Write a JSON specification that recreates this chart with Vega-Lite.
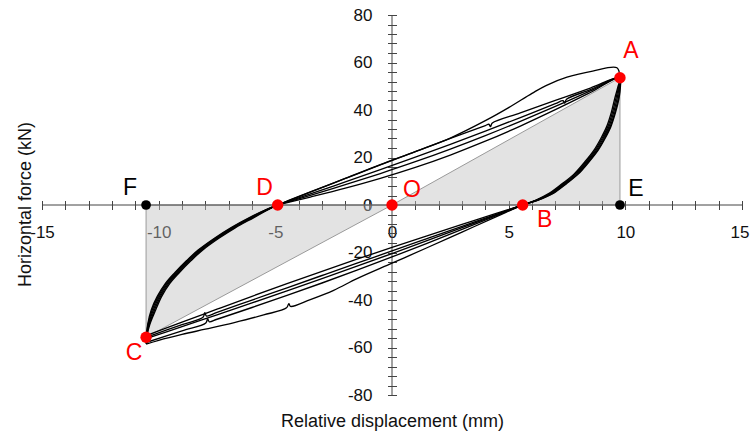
{
  "$schema": "https://vega.github.io/schema/vega-lite/v6.json",
  "width": 700,
  "height": 380,
  "autosize": "none",
  "padding": {"left": 42, "top": 15, "right": 8, "bottom": 42},
  "config": {"view": {"stroke": null}, "font": "Liberation Sans"},
  "datasets": {
    "tri": [
      {"t": "A", "x": 0, "y": 0, "y2": 0},
      {"t": "A", "x": 9.77, "y": 53.6, "y2": 0},
      {"t": "C", "x": -10.54, "y": -55.7, "y2": 0},
      {"t": "C", "x": 0, "y": 0, "y2": 0}
    ],
    "pts": [
      {"n": "A", "x": 9.77, "y": 53.6},
      {"n": "B", "x": 5.6, "y": 0},
      {"n": "C", "x": -10.54, "y": -55.7},
      {"n": "D", "x": -4.9, "y": 0},
      {"n": "O", "x": 0, "y": 0},
      {"n": "E", "x": 9.77, "y": 0},
      {"n": "F", "x": -10.54, "y": 0}
    ],
    "loops": [
      {"c":1,"i":0,"x":-10.54,"y":-58.6},{"c":1,"i":1,"x":-10.42,"y":-50},{"c":1,"i":2,"x":-10.22,"y":-44},{"c":1,"i":3,"x":-9.97,"y":-38.5},{"c":1,"i":4,"x":-9.62,"y":-33},{"c":1,"i":5,"x":-9.22,"y":-28.5},{"c":1,"i":6,"x":-8.72,"y":-23.5},{"c":1,"i":7,"x":-8.22,"y":-19},{"c":1,"i":8,"x":-7.52,"y":-14},{"c":1,"i":9,"x":-6.82,"y":-9.6},{"c":1,"i":10,"x":-6.02,"y":-5.3},{"c":1,"i":11,"x":-5.42,"y":-2.3},{"c":1,"i":12,"x":-4.9,"y":0},
      {"c":1,"i":13,"x":-4.4,"y":2.0},{"c":1,"i":14,"x":-3.5,"y":5.5},{"c":1,"i":15,"x":-2,"y":11.2},{"c":1,"i":16,"x":-0.5,"y":17},{"c":1,"i":17,"x":1,"y":22.5},{"c":1,"i":18,"x":2.5,"y":28.2},{"c":1,"i":19,"x":4,"y":35.5},{"c":1,"i":20,"x":5,"y":41},{"c":1,"i":21,"x":6,"y":47},{"c":1,"i":22,"x":6.6,"y":50.3},{"c":1,"i":23,"x":7.5,"y":53.8},{"c":1,"i":24,"x":8.6,"y":56.4},{"c":1,"i":25,"x":9.64,"y":57.8},{"c":1,"i":26,"x":9.77,"y":53.6},
      {"c":1,"i":27,"x":9.74,"y":50},{"c":1,"i":28,"x":9.65,"y":45},{"c":1,"i":29,"x":9.5,"y":39},{"c":1,"i":30,"x":9.3,"y":33},{"c":1,"i":31,"x":9.05,"y":28},{"c":1,"i":32,"x":8.75,"y":23},{"c":1,"i":33,"x":8.35,"y":18},{"c":1,"i":34,"x":7.9,"y":13},{"c":1,"i":35,"x":7.4,"y":9},{"c":1,"i":36,"x":6.85,"y":5},{"c":1,"i":37,"x":6.2,"y":2},{"c":1,"i":38,"x":5.6,"y":0},
      {"c":1,"i":39,"x":4.5,"y":-4.8},{"c":1,"i":40,"x":3,"y":-11.4},{"c":1,"i":41,"x":1.5,"y":-18},{"c":1,"i":42,"x":0,"y":-24.5},{"c":1,"i":43,"x":-1.5,"y":-31},{"c":1,"i":44,"x":-2.5,"y":-35.9},{"c":1,"i":45,"x":-3.5,"y":-39.8},{"c":1,"i":46,"x":-4.35,"y":-42.7},{"c":1,"i":47,"x":-4.42,"y":-41.5},{"c":1,"i":48,"x":-4.52,"y":-43.3},{"c":1,"i":49,"x":-5.5,"y":-46.3},{"c":1,"i":50,"x":-6.8,"y":-49.6},{"c":1,"i":51,"x":-8,"y":-52.3},{"c":1,"i":52,"x":-9,"y":-54.5},{"c":1,"i":53,"x":-10,"y":-57},{"c":1,"i":54,"x":-10.54,"y":-58.6},

      {"c":2,"i":0,"x":-10.54,"y":-55.0},{"c":2,"i":1,"x":-10.395,"y":-50},{"c":2,"i":2,"x":-10.17,"y":-44},{"c":2,"i":3,"x":-9.92,"y":-38.5},{"c":2,"i":4,"x":-9.57,"y":-33},{"c":2,"i":5,"x":-9.17,"y":-28.5},{"c":2,"i":6,"x":-8.67,"y":-23.5},{"c":2,"i":7,"x":-8.17,"y":-19},{"c":2,"i":8,"x":-7.47,"y":-14},{"c":2,"i":9,"x":-6.77,"y":-9.6},{"c":2,"i":10,"x":-5.97,"y":-5.3},{"c":2,"i":11,"x":-5.395,"y":-2.3},{"c":2,"i":12,"x":-4.9,"y":0},
      {"c":2,"i":13,"x":-4.4,"y":1.94},{"c":2,"i":14,"x":-3.5,"y":5.42},{"c":2,"i":15,"x":-2,"y":11.17},{"c":2,"i":16,"x":-0.5,"y":16.89},{"c":2,"i":17,"x":1,"y":22.51},{"c":2,"i":18,"x":2.5,"y":28.04},{"c":2,"i":19,"x":4,"y":33.47},{"c":2,"i":20,"x":4.15,"y":34.0},{"c":2,"i":21,"x":4.22,"y":33.0},{"c":2,"i":22,"x":4.3,"y":34.5},{"c":2,"i":23,"x":5.5,"y":38.79},{"c":2,"i":24,"x":7,"y":44.05},{"c":2,"i":25,"x":8.5,"y":49.24},{"c":2,"i":26,"x":9.77,"y":53.6},
      {"c":2,"i":27,"x":9.715,"y":50},{"c":2,"i":28,"x":9.6,"y":45},{"c":2,"i":29,"x":9.45,"y":39},{"c":2,"i":30,"x":9.25,"y":33},{"c":2,"i":31,"x":9.0,"y":28},{"c":2,"i":32,"x":8.7,"y":23},{"c":2,"i":33,"x":8.3,"y":18},{"c":2,"i":34,"x":7.85,"y":13},{"c":2,"i":35,"x":7.35,"y":9},{"c":2,"i":36,"x":6.8,"y":5},{"c":2,"i":37,"x":6.175,"y":2},{"c":2,"i":38,"x":5.6,"y":0},
      {"c":2,"i":39,"x":4.5,"y":-3.46},{"c":2,"i":40,"x":3,"y":-8.18},{"c":2,"i":41,"x":1.5,"y":-12.97},{"c":2,"i":42,"x":0,"y":-17.84},{"c":2,"i":43,"x":-1.5,"y":-22.82},{"c":2,"i":44,"x":-3,"y":-27.91},{"c":2,"i":45,"x":-4.5,"y":-33.13},{"c":2,"i":46,"x":-6,"y":-38.44},{"c":2,"i":47,"x":-7.5,"y":-43.86},{"c":2,"i":48,"x":-9,"y":-49.33},{"c":2,"i":49,"x":-10.54,"y":-55.0},

      {"c":3,"i":0,"x":-10.54,"y":-55.7},{"c":3,"i":1,"x":-10.445,"y":-50},{"c":3,"i":2,"x":-10.27,"y":-44},{"c":3,"i":3,"x":-10.02,"y":-38.5},{"c":3,"i":4,"x":-9.67,"y":-33},{"c":3,"i":5,"x":-9.27,"y":-28.5},{"c":3,"i":6,"x":-8.77,"y":-23.5},{"c":3,"i":7,"x":-8.27,"y":-19},{"c":3,"i":8,"x":-7.57,"y":-14},{"c":3,"i":9,"x":-6.87,"y":-9.6},{"c":3,"i":10,"x":-6.07,"y":-5.3},{"c":3,"i":11,"x":-5.445,"y":-2.3},{"c":3,"i":12,"x":-4.9,"y":0},
      {"c":3,"i":13,"x":-4.4,"y":1.67},{"c":3,"i":14,"x":-3.5,"y":4.68},{"c":3,"i":15,"x":-2,"y":9.72},{"c":3,"i":16,"x":-0.5,"y":14.87},{"c":3,"i":17,"x":1,"y":20.13},{"c":3,"i":18,"x":2.5,"y":25.54},{"c":3,"i":19,"x":4,"y":31.1},{"c":3,"i":20,"x":5.5,"y":36.81},{"c":3,"i":21,"x":7,"y":42.65},{"c":3,"i":22,"x":7.33,"y":43.9},{"c":3,"i":23,"x":7.4,"y":42.9},{"c":3,"i":24,"x":7.48,"y":44.5},{"c":3,"i":25,"x":8.5,"y":48.57},{"c":3,"i":26,"x":9.77,"y":53.6},
      {"c":3,"i":27,"x":9.765,"y":50},{"c":3,"i":28,"x":9.7,"y":45},{"c":3,"i":29,"x":9.55,"y":39},{"c":3,"i":30,"x":9.35,"y":33},{"c":3,"i":31,"x":9.1,"y":28},{"c":3,"i":32,"x":8.8,"y":23},{"c":3,"i":33,"x":8.4,"y":18},{"c":3,"i":34,"x":7.95,"y":13},{"c":3,"i":35,"x":7.45,"y":9},{"c":3,"i":36,"x":6.9,"y":5},{"c":3,"i":37,"x":6.225,"y":2},{"c":3,"i":38,"x":5.6,"y":0},
      {"c":3,"i":39,"x":4.5,"y":-3.8},{"c":3,"i":40,"x":3,"y":-8.97},{"c":3,"i":41,"x":1.5,"y":-14.15},{"c":3,"i":42,"x":0,"y":-19.33},{"c":3,"i":43,"x":-1.5,"y":-24.5},{"c":3,"i":44,"x":-3,"y":-29.68},{"c":3,"i":45,"x":-4.5,"y":-34.86},{"c":3,"i":46,"x":-6,"y":-40.03},{"c":3,"i":47,"x":-7.5,"y":-45.21},{"c":3,"i":48,"x":-7.95,"y":-46.77},{"c":3,"i":49,"x":-8.02,"y":-45.3},{"c":3,"i":50,"x":-8.1,"y":-47.3},{"c":3,"i":51,"x":-9,"y":-50.38},{"c":3,"i":52,"x":-10.54,"y":-55.7},

      {"c":4,"i":0,"x":-10.54,"y":-56.3},{"c":4,"i":1,"x":-10.37,"y":-50},{"c":4,"i":2,"x":-10.12,"y":-44},{"c":4,"i":3,"x":-9.87,"y":-38.5},{"c":4,"i":4,"x":-9.52,"y":-33},{"c":4,"i":5,"x":-9.12,"y":-28.5},{"c":4,"i":6,"x":-8.62,"y":-23.5},{"c":4,"i":7,"x":-8.12,"y":-19},{"c":4,"i":8,"x":-7.42,"y":-14},{"c":4,"i":9,"x":-6.72,"y":-9.6},{"c":4,"i":10,"x":-5.92,"y":-5.3},{"c":4,"i":11,"x":-5.37,"y":-2.3},{"c":4,"i":12,"x":-4.9,"y":0},
      {"c":4,"i":13,"x":-4.4,"y":1.46},{"c":4,"i":14,"x":-3.5,"y":4.09},{"c":4,"i":15,"x":-2,"y":8.55},{"c":4,"i":16,"x":-0.5,"y":13.25},{"c":4,"i":17,"x":1,"y":18.22},{"c":4,"i":18,"x":2.5,"y":23.54},{"c":4,"i":19,"x":4,"y":29.21},{"c":4,"i":20,"x":5.5,"y":35.22},{"c":4,"i":21,"x":7,"y":41.53},{"c":4,"i":22,"x":8.5,"y":48.03},{"c":4,"i":23,"x":9.77,"y":53.6},
      {"c":4,"i":24,"x":9.69,"y":50},{"c":4,"i":25,"x":9.55,"y":45},{"c":4,"i":26,"x":9.4,"y":39},{"c":4,"i":27,"x":9.2,"y":33},{"c":4,"i":28,"x":8.95,"y":28},{"c":4,"i":29,"x":8.65,"y":23},{"c":4,"i":30,"x":8.25,"y":18},{"c":4,"i":31,"x":7.8,"y":13},{"c":4,"i":32,"x":7.3,"y":9},{"c":4,"i":33,"x":6.75,"y":5},{"c":4,"i":34,"x":6.15,"y":2},{"c":4,"i":35,"x":5.6,"y":0},
      {"c":4,"i":36,"x":4.5,"y":-4.05},{"c":4,"i":37,"x":3,"y":-9.55},{"c":4,"i":38,"x":1.5,"y":-15.02},{"c":4,"i":39,"x":0,"y":-20.43},{"c":4,"i":40,"x":-1.5,"y":-25.75},{"c":4,"i":41,"x":-3,"y":-31.0},{"c":4,"i":42,"x":-4.5,"y":-36.16},{"c":4,"i":43,"x":-6,"y":-41.23},{"c":4,"i":44,"x":-7.5,"y":-46.26},{"c":4,"i":45,"x":-9,"y":-51.22},{"c":4,"i":46,"x":-10.54,"y":-56.3},

      {"c":5,"i":0,"x":-10.54,"y":-57.9},{"c":5,"i":1,"x":-10.465,"y":-50},{"c":5,"i":2,"x":-10.31,"y":-44},{"c":5,"i":3,"x":-10.06,"y":-38.5},{"c":5,"i":4,"x":-9.71,"y":-33},{"c":5,"i":5,"x":-9.31,"y":-28.5},{"c":5,"i":6,"x":-8.81,"y":-23.5},{"c":5,"i":7,"x":-8.31,"y":-19},{"c":5,"i":8,"x":-7.61,"y":-14},{"c":5,"i":9,"x":-6.91,"y":-9.6},{"c":5,"i":10,"x":-6.11,"y":-5.3},{"c":5,"i":11,"x":-5.465,"y":-2.3},{"c":5,"i":12,"x":-4.9,"y":0},
      {"c":5,"i":13,"x":-4.4,"y":1.19},{"c":5,"i":14,"x":-3.5,"y":3.35},{"c":5,"i":15,"x":-2,"y":7.1},{"c":5,"i":16,"x":-0.5,"y":11.23},{"c":5,"i":17,"x":1,"y":15.84},{"c":5,"i":18,"x":2.5,"y":21.04},{"c":5,"i":19,"x":4,"y":26.85},{"c":5,"i":20,"x":5.5,"y":33.24},{"c":5,"i":21,"x":7,"y":40.14},{"c":5,"i":22,"x":8.5,"y":47.36},{"c":5,"i":23,"x":9.77,"y":53.6},
      {"c":5,"i":24,"x":9.79,"y":50},{"c":5,"i":25,"x":9.73,"y":45},{"c":5,"i":26,"x":9.58,"y":39},{"c":5,"i":27,"x":9.38,"y":33},{"c":5,"i":28,"x":9.13,"y":28},{"c":5,"i":29,"x":8.83,"y":23},{"c":5,"i":30,"x":8.43,"y":18},{"c":5,"i":31,"x":7.98,"y":13},{"c":5,"i":32,"x":7.48,"y":9},{"c":5,"i":33,"x":6.93,"y":5},{"c":5,"i":34,"x":6.24,"y":2},{"c":5,"i":35,"x":5.6,"y":0},
      {"c":5,"i":36,"x":4.5,"y":-4.37},{"c":5,"i":37,"x":3,"y":-10.29},{"c":5,"i":38,"x":1.5,"y":-16.14},{"c":5,"i":39,"x":0,"y":-21.87},{"c":5,"i":40,"x":-1.5,"y":-27.43},{"c":5,"i":41,"x":-3,"y":-32.84},{"c":5,"i":42,"x":-4.5,"y":-38.08},{"c":5,"i":43,"x":-6,"y":-43.16},{"c":5,"i":44,"x":-7.5,"y":-48.11},{"c":5,"i":45,"x":-7.83,"y":-49.2},{"c":5,"i":46,"x":-7.9,"y":-47.9},{"c":5,"i":47,"x":-7.98,"y":-49.7},{"c":5,"i":48,"x":-9,"y":-52.97},{"c":5,"i":49,"x":-10.54,"y":-57.9}
    ]
  },
  "layer": [
    {
      "data": {"name": "tri"},
      "mark": {"type": "area", "color": "#c2c2c2", "fillOpacity": 0.45, "stroke": "#9a9a9a", "strokeWidth": 1},
      "encoding": {
        "x": {
          "field": "x", "type": "quantitative",
          "scale": {"domain": [-15, 15], "nice": false, "zero": false},
          "axis": {
            "title": "Relative displacement (mm)",
            "orient": "bottom",
            "offset": -194.5,
            "domain": false,
            "grid": false,
            "values": [-15,-14,-13,-12,-11,-10,-9,-8,-7,-6,-5,-4,-3,-2,-1,0,1,2,3,4,5,6,7,8,9,10,11,12,13,14,15],
            "tickCount": 100,
            "tickSize": 9,
            "tickColor": "#444444",
            "tickWidth": 1,
            "labelExpr": "datum.value % 5 == 0 ? '' + datum.value : ''",
            "labelOffset": {"expr": "datum.value == 15 ? -2.5 : 0"},
            "labelFont": "Liberation Sans",
            "labelFontSize": 17,
            "labelColor": "#111111",
            "labelPadding": 15,
            "labelOverlap": false,
            "labelFlush": false,
            "labelBound": false,
            "titleFont": "Liberation Sans",
            "titleFontSize": 18,
            "titleFontWeight": "normal",
            "titleColor": "#111111",
            "titleY": 220.5,
            "titleBaseline": "middle"
          }
        },
        "y": {
          "field": "y", "type": "quantitative",
          "scale": {"domain": [-80, 80], "nice": false, "zero": false},
          "axis": {
            "title": "Horizontal force (kN)",
            "orient": "left",
            "offset": -354.5,
            "domain": false,
            "grid": false,
            "values": [-80,-76,-72,-68,-64,-60,-56,-52,-48,-44,-40,-36,-32,-28,-24,-20,-16,-12,-8,-4,0,4,8,12,16,20,24,28,32,36,40,44,48,52,56,60,64,68,72,76,80],
            "tickCount": 100,
            "tickSize": 9,
            "tickColor": "#444444",
            "tickWidth": 1,
            "labelExpr": "datum.value % 20 == 0 ? '' + datum.value : ''",
            "labelFont": "Liberation Sans",
            "labelFontSize": 17,
            "labelColor": "#111111",
            "labelPadding": 15.5,
            "labelOverlap": false,
            "labelFlush": false,
            "labelBound": false,
            "titleFont": "Liberation Sans",
            "titleFontSize": 18,
            "titleFontWeight": "normal",
            "titleColor": "#111111",
            "titleX": -371.5,
            "titleY": 189,
            "titleAlign": "center",
            "titleBaseline": "middle"
          }
        },
        "y2": {"field": "y2"},
        "detail": {"field": "t"}
      }
    },
    {
      "data": {"values": [{"a": -15, "b": 15, "z": 0}]},
      "mark": {"type": "rule", "color": "#444444", "strokeWidth": 1},
      "encoding": {
        "x": {"field": "a", "type": "quantitative"},
        "x2": {"field": "b"},
        "y": {"field": "z", "type": "quantitative"}
      }
    },
    {
      "data": {"values": [{"z": 0, "a": -80, "b": 80}]},
      "mark": {"type": "rule", "color": "#444444", "strokeWidth": 1},
      "encoding": {
        "x": {"field": "z", "type": "quantitative"},
        "y": {"field": "a", "type": "quantitative"},
        "y2": {"field": "b"}
      }
    },
    {
      "data": {"name": "loops"},
      "mark": {"type": "line", "color": "#000000", "strokeWidth": 1.35, "interpolate": "catmull-rom"},
      "encoding": {
        "x": {"field": "x", "type": "quantitative"},
        "y": {"field": "y", "type": "quantitative"},
        "detail": {"field": "c"},
        "order": {"field": "i", "type": "quantitative"}
      }
    },
    {
      "data": {"name": "pts"},
      "transform": [{"filter": "datum.n != 'E' && datum.n != 'F'"}],
      "mark": {"type": "point", "shape": "circle", "filled": true, "color": "#ff0000", "opacity": 1, "size": 130},
      "encoding": {
        "x": {"field": "x", "type": "quantitative"},
        "y": {"field": "y", "type": "quantitative"}
      }
    },
    {
      "data": {"name": "pts"},
      "transform": [{"filter": "datum.n == 'E' || datum.n == 'F'"}],
      "mark": {"type": "point", "shape": "circle", "filled": true, "color": "#000000", "opacity": 1, "size": 95},
      "encoding": {
        "x": {"field": "x", "type": "quantitative"},
        "y": {"field": "y", "type": "quantitative"}
      }
    },
    {
      "data": {"name": "pts"},
      "transform": [{"filter": "datum.n == 'A'"}],
      "mark": {"type": "text", "color": "#ff0000", "fontSize": 23, "font": "Liberation Sans", "align": "center", "baseline": "middle", "dx": 11, "dy": -27},
      "encoding": {"x": {"field": "x", "type": "quantitative"}, "y": {"field": "y", "type": "quantitative"}, "text": {"field": "n"}}
    },
    {
      "data": {"name": "pts"},
      "transform": [{"filter": "datum.n == 'B'"}],
      "mark": {"type": "text", "color": "#ff0000", "fontSize": 23, "font": "Liberation Sans", "align": "center", "baseline": "middle", "dx": 22, "dy": 15},
      "encoding": {"x": {"field": "x", "type": "quantitative"}, "y": {"field": "y", "type": "quantitative"}, "text": {"field": "n"}}
    },
    {
      "data": {"name": "pts"},
      "transform": [{"filter": "datum.n == 'C'"}],
      "mark": {"type": "text", "color": "#ff0000", "fontSize": 23, "font": "Liberation Sans", "align": "center", "baseline": "middle", "dx": -12, "dy": 16},
      "encoding": {"x": {"field": "x", "type": "quantitative"}, "y": {"field": "y", "type": "quantitative"}, "text": {"field": "n"}}
    },
    {
      "data": {"name": "pts"},
      "transform": [{"filter": "datum.n == 'D'"}],
      "mark": {"type": "text", "color": "#ff0000", "fontSize": 23, "font": "Liberation Sans", "align": "center", "baseline": "middle", "dx": -13, "dy": -17},
      "encoding": {"x": {"field": "x", "type": "quantitative"}, "y": {"field": "y", "type": "quantitative"}, "text": {"field": "n"}}
    },
    {
      "data": {"name": "pts"},
      "transform": [{"filter": "datum.n == 'O'"}],
      "mark": {"type": "text", "color": "#ff0000", "fontSize": 23, "font": "Liberation Sans", "align": "center", "baseline": "middle", "dx": 20, "dy": -15},
      "encoding": {"x": {"field": "x", "type": "quantitative"}, "y": {"field": "y", "type": "quantitative"}, "text": {"field": "n"}}
    },
    {
      "data": {"name": "pts"},
      "transform": [{"filter": "datum.n == 'E'"}],
      "mark": {"type": "text", "color": "#000000", "fontSize": 23, "font": "Liberation Sans", "align": "center", "baseline": "middle", "dx": 16, "dy": -16},
      "encoding": {"x": {"field": "x", "type": "quantitative"}, "y": {"field": "y", "type": "quantitative"}, "text": {"field": "n"}}
    },
    {
      "data": {"name": "pts"},
      "transform": [{"filter": "datum.n == 'F'"}],
      "mark": {"type": "text", "color": "#000000", "fontSize": 23, "font": "Liberation Sans", "align": "center", "baseline": "middle", "dx": -16, "dy": -17},
      "encoding": {"x": {"field": "x", "type": "quantitative"}, "y": {"field": "y", "type": "quantitative"}, "text": {"field": "n"}}
    }
  ]
}
